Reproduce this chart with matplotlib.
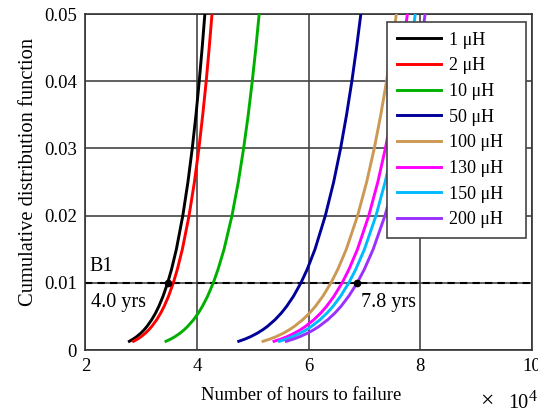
import matplotlib
matplotlib.use('Agg')
import matplotlib.pyplot as plt

plt.rcParams['font.family'] = ['Liberation Serif', 'DejaVu Serif']

# cumulative probability levels where each curve was sampled
cdf_levels = [0.0013, 0.0016, 0.002, 0.0025, 0.003, 0.0035, 0.0045, 0.0055, 0.0065, 0.008,
              0.01, 0.012, 0.015, 0.02, 0.025, 0.03, 0.035, 0.04, 0.045, 0.05, 0.055]

# hours to failure (x 1e4) at each level, one list per inductance
hours_1uH = [2.789, 2.852, 2.921, 2.993, 3.052, 3.103, 3.188, 3.258, 3.317, 3.392, 3.475,
             3.544, 3.631, 3.746, 3.838, 3.915, 3.982, 4.040, 4.093, 4.141, 4.185]
hours_2uH = [2.863, 2.929, 3.001, 3.075, 3.136, 3.189, 3.278, 3.350, 3.412, 3.490, 3.576,
             3.648, 3.738, 3.858, 3.954, 4.034, 4.103, 4.165, 4.219, 4.269, 4.315]
hours_10uH = [3.445, 3.523, 3.608, 3.696, 3.769, 3.832, 3.938, 4.024, 4.097, 4.190, 4.292,
              4.377, 4.485, 4.627, 4.740, 4.835, 4.918, 4.990, 5.055, 5.114, 5.168]
hours_50uH = [4.748, 4.851, 4.964, 5.079, 5.176, 5.259, 5.397, 5.510, 5.606, 5.728, 5.862,
              5.974, 6.114, 6.299, 6.448, 6.572, 6.679, 6.774, 6.858, 6.935, 7.005]
hours_100uH = [5.183, 5.296, 5.420, 5.546, 5.651, 5.741, 5.892, 6.016, 6.121, 6.254, 6.400,
               6.522, 6.675, 6.877, 7.039, 7.175, 7.292, 7.395, 7.487, 7.571, 7.648]
hours_130uH = [5.380, 5.493, 5.617, 5.743, 5.850, 5.940, 6.092, 6.216, 6.321, 6.453, 6.600,
               6.722, 6.875, 7.077, 7.239, 7.374, 7.490, 7.593, 7.685, 7.769, 7.845]
hours_150uH = [5.477, 5.592, 5.719, 5.848, 5.956, 6.048, 6.203, 6.329, 6.436, 6.571, 6.720,
               6.844, 7.000, 7.206, 7.370, 7.508, 7.627, 7.731, 7.825, 7.910, 7.987]
hours_200uH = [5.600, 5.717, 5.846, 5.978, 6.089, 6.183, 6.341, 6.470, 6.579, 6.717, 6.870,
               6.997, 7.156, 7.367, 7.535, 7.676, 7.797, 7.904, 7.999, 8.087, 8.166]

labels = ['1 μH', '2 μH', '10 μH', '50 μH', '100 μH', '130 μH', '150 μH', '200 μH']
colors = ['#000000', '#ff0000', '#00b000', '#000099', '#cc9955', '#ff00ff', '#00bbff', '#9b30ff']
series = [hours_1uH, hours_2uH, hours_10uH, hours_50uH, hours_100uH,
          hours_130uH, hours_150uH, hours_200uH]

b1_level = 0.01
b1_points = [3.475, 6.870]
b1_texts = ['4.0 yrs', '7.8 yrs']

fig = plt.figure(figsize=(5.38, 4.13), dpi=100)
ax = fig.add_axes([0.1586, 0.1525, 0.8302, 0.8136])

for hrs, lab, col in zip(series, labels, colors):
    ax.plot(hrs, cdf_levels, color=col, lw=2.1, label=lab, zorder=3)

ax.axhline(b1_level, color='black', ls=(0, (3.5, 2.5)), lw=1.5, zorder=2)
ax.plot(b1_points, [b1_level, b1_level], 'o', color='black', ms=4.5, zorder=4)
ax.text(2.07, 0.0124, 'B1', fontsize=14.5, va='center', ha='left')
ax.text(2.095, 0.0070, b1_texts[0], fontsize=14.5, va='center', ha='left')
ax.text(6.935, 0.0070, b1_texts[1], fontsize=14.5, va='center', ha='left')

ax.set_xlim(2, 10)
ax.set_ylim(0, 0.05)
ax.set_xticks([2, 4, 6, 8, 10])
ax.set_yticks([0, 0.01, 0.02, 0.03, 0.04, 0.05])
ax.set_yticklabels(['0', '0.01', '0.02', '0.03', '0.04', '0.05'])
ax.tick_params(direction='in', length=0, labelsize=13.5, pad=6)
ax.grid(True, color='#444444', lw=1.2)
ax.set_axisbelow(True)
for sp in ax.spines.values():
    sp.set_color('#333333')
    sp.set_linewidth(1.2)

ax.set_xlabel('Number of hours to failure', fontsize=13.4)
ax.xaxis.set_label_coords(0.484, -0.11)
ax.set_ylabel('Cumulative distribution function', fontsize=14.8)
ax.yaxis.set_label_coords(-0.107, 0.531)

# axis multiplier at the lower right corner
fig.text(0.905, 0.014, '×', fontsize=17, ha='center', va='baseline')
fig.text(0.944, 0.012, '10', fontsize=14.5, ha='left', va='baseline')
fig.text(0.982, 0.030, '4', fontsize=11.5, ha='left', va='baseline')

leg = ax.legend(loc='upper left', bbox_to_anchor=(0.676, 0, 0.3106, 0.977), mode='expand',
                fontsize=13, frameon=True, fancybox=False, handlelength=2.45,
                labelspacing=0.48, borderaxespad=0, borderpad=0.55, handletextpad=0.4)
leg.get_frame().set_edgecolor('#444444')
leg.get_frame().set_linewidth(1.2)
leg.get_frame().set_alpha(1)

fig.savefig('out.png', dpi=100)
